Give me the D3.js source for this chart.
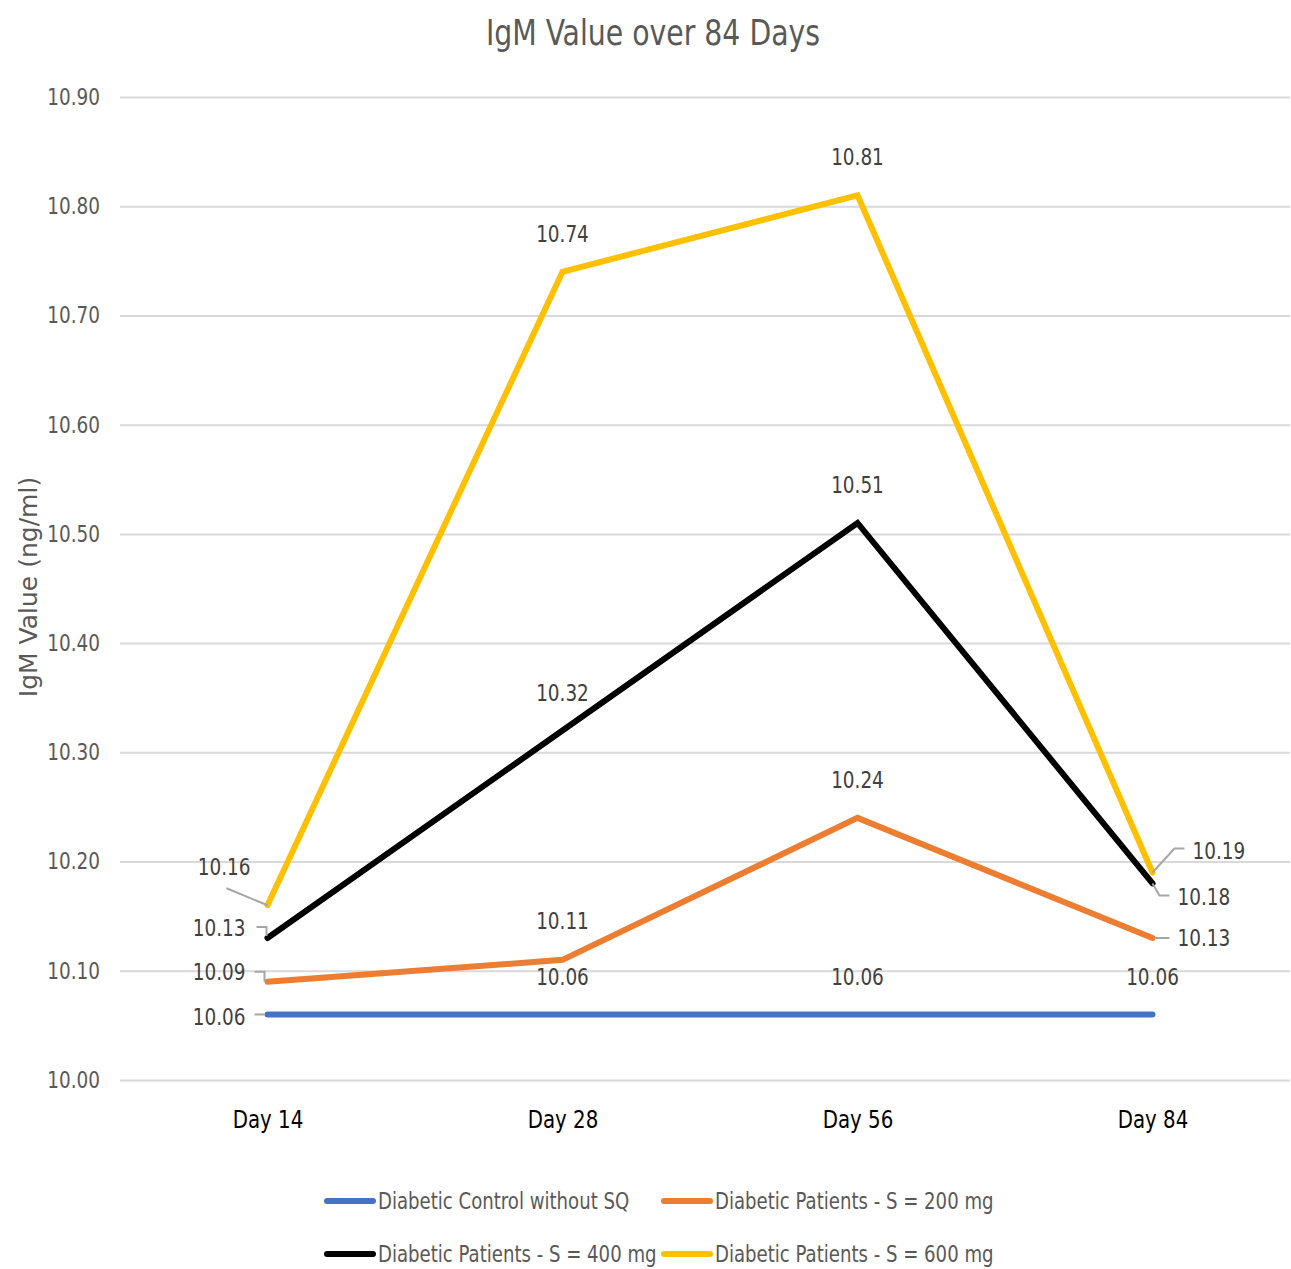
<!DOCTYPE html>
<html>
<head>
<meta charset="utf-8">
<script src="https://cdn.jsdelivr.net/npm/d3@7"></script>
<style>
  body { margin: 0; background: #fff; }
  text { font-family: "DejaVu Sans Condensed", "Liberation Sans Narrow", sans-serif; }
</style>
</head>
<body>
<div id="chart"></div>
<script>
// data
const days = ["Day 14", "Day 28", "Day 56", "Day 84"];
const seriesNames = [
  "Diabetic Control without SQ",
  "Diabetic Patients - S = 200 mg",
  "Diabetic Patients - S = 400 mg",
  "Diabetic Patients - S = 600 mg"
];
const control = [10.06, 10.06, 10.06, 10.06];
const s200 = [10.09, 10.11, 10.24, 10.13];
const s400 = [10.13, 10.32, 10.51, 10.18];
const s600 = [10.16, 10.74, 10.81, 10.19];
const yTicks = [10.0, 10.1, 10.2, 10.3, 10.4, 10.5, 10.6, 10.7, 10.8, 10.9];

const colors = ["#4472C4", "#ED7D31", "#000000", "#FFC000"];
const allSeries = [control, s200, s400, s600];

// label placement (dx, dy from point, anchor, leader polyline relative to point)
const above = {dx: 0, dy: -38, anchor: "middle"};
const placements = [
  [{dx: -22, dy: 2, anchor: "end", leader: [[-13, 0], [-3, 0]]}, above, above, above],
  [{dx: -22, dy: -10, anchor: "end", leader: [[-13, -10], [-3, -10], [-3, 0]]}, {dx: 0, dy: -39, anchor: "middle"}, above, {dx: 25, dy: 0, anchor: "start", leader: [[2, 0], [17, 0]]}],
  [{dx: -22, dy: -10, anchor: "end", leader: [[-11, -11], [-1, -11], [-1, -2]]}, above, above, {dx: 25, dy: 14, anchor: "start", leader: [[0, 0], [7, 12], [17, 12]]}],
  [{dx: -17, dy: -38, anchor: "end", leader: [[-41, -17], [0, 0]]}, above, above, {dx: 40, dy: -22, anchor: "start", leader: [[0, 0], [22, -24], [32, -24]]}]
];

const W = 1291, H = 1269;
const plotLeft = 120, plotRight = 1300, gridRight = 1290;
const plotTop = 97, plotBottom = 1080;
const squeezeK = 0.89;

// narrow the condensed font a little more, like the original
function squeeze(sel, k) {
  sel.each(function() {
    const t = d3.select(this);
    const x0 = +t.attr("x") || 0;
    t.attr("x", x0 / k).attr("transform", `scale(${k},1)`);
  });
}

const svg = d3.select("#chart").append("svg")
  .attr("width", W).attr("height", H);

const x = d3.scalePoint()
  .domain(days)
  .range([plotLeft, plotRight])
  .padding(0.5);

const y = d3.scaleLinear()
  .domain([10.0, 10.9])
  .range([plotBottom, plotTop]);

// title
svg.append("text")
  .attr("x", 653).attr("y", 45)
  .attr("text-anchor", "middle")
  .style("font-size", "35px")
  .style("fill", "#595959")
  .text("IgM Value over 84 Days")
  .call(squeeze, 0.9);

// y axis with gridlines
const yAxis = svg.append("g")
  .attr("transform", `translate(${plotLeft},0)`)
  .call(d3.axisLeft(y).tickValues(yTicks).tickFormat(d3.format(".2f")).tickSize(-(gridRight - plotLeft)).tickPadding(20));
yAxis.select(".domain").remove();
yAxis.selectAll(".tick line").attr("stroke", "#d9d9d9").attr("stroke-width", 2);
yAxis.selectAll(".tick text")
  .attr("font-family", null).attr("font-size", null)
  .style("font-size", "23px")
  .style("fill", "#595959")
  .call(squeeze, squeezeK);

// y axis title
svg.append("text")
  .attr("transform", "translate(37,587) rotate(-90)")
  .attr("text-anchor", "middle")
  .style("font-family", "'DejaVu Sans', 'Open Sans', sans-serif")
  .style("font-size", "25px")
  .style("fill", "#595959")
  .text("IgM Value (ng/ml)");

// x axis
const xAxis = svg.append("g")
  .attr("transform", `translate(0,${plotBottom})`)
  .call(d3.axisBottom(x).tickSize(0).tickPadding(30));
xAxis.select(".domain").remove();
xAxis.selectAll(".tick text")
  .attr("font-family", null).attr("font-size", null)
  .style("font-size", "25px")
  .style("fill", "#000")
  .call(squeeze, 0.88);

// lines
const line = d3.line()
  .x((d, i) => x(days[i]))
  .y(d => y(d));

allSeries.forEach((s, k) => {
  svg.append("path")
    .datum(s)
    .attr("fill", "none")
    .attr("stroke", colors[k])
    .attr("stroke-width", 6)
    .attr("stroke-linejoin", "miter")
    .attr("stroke-linecap", "round")
    .attr("d", line);
});

// data labels
allSeries.forEach((s, k) => {
  s.forEach((v, i) => {
    const px = x(days[i]), py = y(v);
    const p = placements[k][i];
    if (p.leader) {
      svg.append("path")
        .attr("fill", "none")
        .attr("stroke", "#a6a6a6")
        .attr("stroke-width", 2)
        .attr("d", d3.line()(p.leader.map(q => [px + q[0], py + q[1]])));
    }
    svg.append("text")
      .attr("x", px + p.dx)
      .attr("y", py + p.dy)
      .attr("dy", "0.35em")
      .attr("text-anchor", p.anchor)
      .style("font-size", "23px")
      .style("fill", "#404040")
      .text(d3.format(".2f")(v))
      .call(squeeze, squeezeK);
  });
});

// legend
const legendPos = [[325, 1201], [662, 1201], [325, 1254], [662, 1254]];
seriesNames.forEach((name, k) => {
  const g = svg.append("g").attr("transform", `translate(${legendPos[k][0]},${legendPos[k][1]})`);
  g.append("line")
    .attr("x1", 2).attr("x2", 48)
    .attr("stroke", colors[k])
    .attr("stroke-width", 6)
    .attr("stroke-linecap", "round");
  g.append("text")
    .attr("x", 53)
    .attr("dy", "0.35em")
    .style("font-size", "23px")
    .style("fill", "#595959")
    .text(name)
    .call(squeeze, 0.875);
});
</script>
</body>
</html>
